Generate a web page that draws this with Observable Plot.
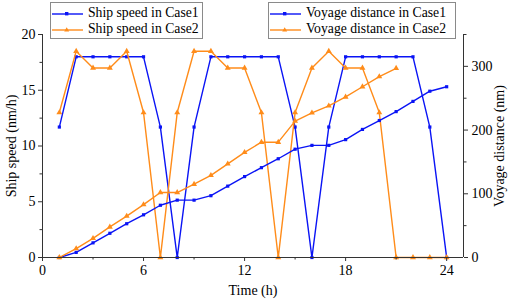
<!DOCTYPE html>
<html><head><meta charset="utf-8">
<script src="https://cdn.jsdelivr.net/npm/d3@7"></script>
<script src="https://cdn.jsdelivr.net/npm/@observablehq/plot@0.6"></script>
<style>
body{margin:0;background:#fff;}
#wrap{position:relative;width:512px;height:303px;font-family:"Liberation Serif",serif;color:#000;}
#wrap svg text{font-family:"Liberation Serif",serif;}
.lg{position:absolute;border:1px solid #8a8a8a;background:#fff;font-size:13.7px;line-height:16px;}
.row{position:absolute;left:0;white-space:nowrap;}
.row svg{position:absolute;left:0;top:0;}
.row span{position:absolute;top:-1px;}
.lab{position:absolute;font-size:14px;white-space:nowrap;}
</style>
</head><body><div id="wrap"></div>
<script>
const hours = [1,2,3,4,5,6,7,8,9,10,11,12,13,14,15,16,17,18,19,20,21,22,23,24];
const speedCase1 = [11.7,18,18,18,18,18,11.7,0,11.7,18,18,18,18,18,11.7,0,11.7,18,18,18,18,18,11.7,0];
const speedCase2 = [13,18.5,17,17,18.5,13,0,13,18.5,18.5,17,17,13,0,13,17,18.5,17,17,13,0,0,0,0];
const distCase1 = [0,8,23,38,53,67,82,90,90,97,112,127,141,155,170,176,176,185,201,215,229,245,261,268];
const distCase2 = [0,14,30,48,65,83,102,102,115,129,147,165,181,181,214,227,238,252,268,284,297];
const xTicks = [0,6,12,18,24];
const speedTicks = [0,5,10,15,20];
const distTicks = [0,100,200,300];
const seriesNames = ["Ship speed in Case1","Ship speed in Case2","Voyage distance in Case1","Voyage distance in Case2"];
const BLUE = "#0a14f5", ORANGE = "#ff8c1a";

const K = 350/20; // distance per speed unit (right axis 0-350 vs left 0-20)
const s1 = hours.map((h,i)=>({h, v:speedCase1[i]}));
const s2 = hours.map((h,i)=>({h, v:speedCase2[i]}));
const d1 = hours.map((h,i)=>({h, v:distCase1[i]/K}));
const d2 = distCase2.map((d,i)=>({h:hours[i], v:d/K}));

const lineOpts = (c)=>({x:"h", y:"v", stroke:c, strokeWidth:1.4});
const plot = Plot.plot({
  width:512, height:303,
  marginLeft:42, marginRight:49, marginTop:34, marginBottom:46,
  x:{domain:[0,25]},
  y:{domain:[0,20]},
  style:{fontFamily:"Liberation Serif, serif", fontSize:"14px", color:"#000", background:"transparent"},
  marks:[
    Plot.line(s1, lineOpts(BLUE)),
    Plot.dot(s1, {x:"h", y:"v", symbol:"square", r:1.8, fill:BLUE}),
    Plot.line(s2, lineOpts(ORANGE)),
    Plot.dot(s2, {x:"h", y:"v", symbol:"triangle", r:2.2, fill:ORANGE}),
    Plot.line(d1, lineOpts(BLUE)),
    Plot.dot(d1, {x:"h", y:"v", symbol:"square", r:1.8, fill:BLUE}),
    Plot.line(d2, lineOpts(ORANGE)),
    Plot.dot(d2, {x:"h", y:"v", symbol:"triangle", r:2.2, fill:ORANGE}),
    Plot.ruleX([0], {stroke:"#333"}),
    Plot.ruleX([25], {stroke:"#333"}),
    Plot.ruleY([0], {stroke:"#333"}),
    Plot.axisX({ticks:xTicks, tickSize:4, tickPadding:4, label:null, stroke:"#333"}),
    Plot.axisX({ticks:xTicks.slice(0,-1).map(t=>t+3), tickSize:2.5, tickFormat:()=>"", label:null, stroke:"#333"}),
    Plot.axisY({ticks:speedTicks, tickSize:4, tickPadding:3, label:null, stroke:"#333"}),
    Plot.axisY({ticks:speedTicks.slice(0,-1).map(t=>t+2.5), tickSize:2.5, tickFormat:()=>"", label:null, stroke:"#333"}),
    Plot.axisY({anchor:"right", ticks:distTicks.map(d=>d/K), tickFormat:d=>Math.round(d*K), tickSize:4, tickPadding:4, label:null, stroke:"#333"}),
    Plot.axisY({anchor:"right", ticks:distTicks.map(d=>(d+50)/K), tickSize:2.5, tickFormat:()=>"", label:null, stroke:"#333"})
  ]
});
const wrap = document.getElementById("wrap");
plot.style.position="absolute"; plot.style.left="0"; plot.style.top="0";
wrap.appendChild(plot);

function legendBox(left, top, w, names, colors, symbols){
  const box = document.createElement("div");
  box.className="lg";
  box.style.left=left+"px"; box.style.top=top+"px"; box.style.width=w+"px"; box.style.height="35px";
  names.forEach((n,i)=>{
    const row=document.createElement("div"); row.className="row"; row.style.top=(3+i*16)+"px";
    const c=colors[i];
    const mk = symbols[i]==="square"
      ? `<rect x="14" y="6" width="3.4" height="3.4" fill="${c}"/>`
      : `<path d="M15.7,5.2 L18.2,9.6 L13.2,9.6Z" fill="${c}"/>`;
    row.innerHTML = `<svg width="34" height="16"><line x1="1" x2="32" y1="8" y2="8" stroke="${c}" stroke-width="1.4"/>${mk}</svg><span style="left:37px">${n}</span>`;
    box.appendChild(row);
  });
  wrap.appendChild(box);
}
legendBox(50, 2, 151, seriesNames.slice(0,2), [BLUE,ORANGE], ["square","triangle"]);
legendBox(268, 2, 186, seriesNames.slice(2), [BLUE,ORANGE], ["square","triangle"]);

function label(text, x, y, rot){
  const d=document.createElement("div"); d.className="lab"; d.textContent=text;
  d.style.left=x+"px"; d.style.top=y+"px";
  d.style.transform=`translate(-50%,-50%)` + (rot?` rotate(${rot}deg)`:"");
  wrap.appendChild(d);
}
label("Time (h)", 253, 291, 0);
label("Ship speed (nm/h)", 12, 146, -90);
label("Voyage distance (nm)", 500, 146, -90);
</script></body></html>
